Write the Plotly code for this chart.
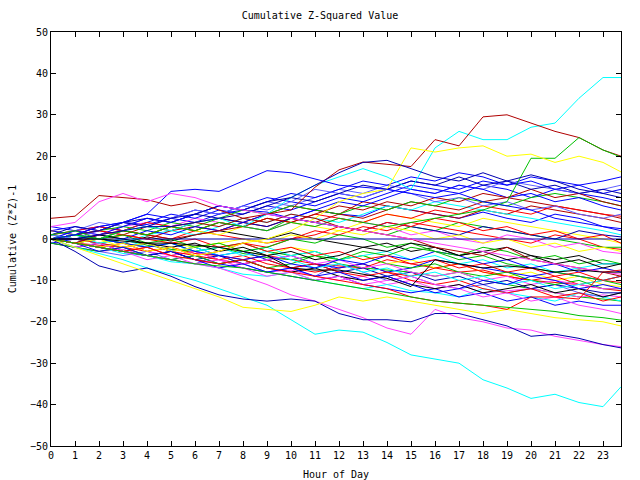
import plotly.graph_objects as go

HOURS = list(range(24)) + [23.75]

# Prominent series (values at hours 0..23 and 23.75)
CYAN_TOP = [0, 1, 0, 2, 3, 2, 4, 5, 3, 6, 10, 13, 15, 17, 15, 12, 22, 26, 24, 24, 27, 28, 34, 39, 39]
CYAN_BOTTOM = [0, -2, -3.5, -5, -7, -8.5, -10, -12, -14, -16, -19.5, -23, -22, -22.5, -25, -28, -29, -30, -34, -36, -38.5, -37.5, -39.5, -40.5, -35.7]
MAGENTA_LOW = [0, -1, -2, -3, -4, -5, -6, -7, -9, -11, -13.5, -15, -17, -19, -21.5, -23, -17, -19, -20, -21.5, -22, -23.5, -24.5, -25.5, -26]
BLUE_LOW = [0, -3, -6.5, -8, -7, -9, -11.5, -13.5, -14.5, -15, -14.5, -15, -18, -19.5, -19.5, -20, -18, -18, -19.5, -21, -23.5, -23, -24, -25.5, -26.3]
DARKRED_TOP = [0, -1, 1, 2, 1, 3, 4, 3, 5, 6, 7, 12.5, 16.7, 18.6, 18, 17.5, 24, 22.5, 29.5, 30, 28, 26, 24.5, 21.5, 20]
GREEN_TOP = [0, 1, 0, 2, 1, 3, 2, 4, 3, 2, 4, 3, 5, 4, 3, 4, 5, 6, 7, 9, 19.5, 19.5, 24.5, 21.5, 19.8]
YELLOW_TOP = [0, -1, -2, -1, -3, -2, -4, -3, -1, 0, 2, 5, 9, 11, 12, 22, 21, 22, 22.5, 20, 20.5, 18.5, 20, 18.5, 16.2]
BLUE_HIGH = [0, 1, 3, 4, 6, 11.5, 12, 11.5, 14, 16.5, 16, 14.5, 13, 12.5, 12, 11, 10, 11, 9, 8, 7, 5, 4, 3, 2]
BLUE_HIGH2 = [0, 0, 1, 2, 3, 3, 4, 5, 6, 8, 10, 13, 16, 18.5, 19, 17, 15, 14, 16, 14, 15.5, 14, 12, 11, 10]
DARKRED_EARLY = [5, 5.5, 10.5, 10, 9.5, 8, 9, 7, 5, 4, 6, 5, 3, 2, 1, 0, -2, -3, -4, -2, -5, -6, -7, -8, -9]
MAGENTA_EARLY = [3, 4, 9, 11, 9, 11, 10, 8, 7, 6, 5, 4, 3, 2, 1, 0, -1, -2, -3, -4, -5, -6, -7, -8, -8.5]
YELLOW_LOW = [0, -2, -4, -6, -8, -10, -12, -14, -16.5, -17, -17.5, -16, -14, -15, -14, -15, -16, -17, -18, -17, -18, -19, -19.5, -20, -21]
RED_JUMP = [0, -1, -2, -3, -2, -4, -5, -6, -5, -7, -8, -9, -10, -11, -12, -14, -15, -15.5, -16, -17, -14, -14, -14.5, -8, -7.5]
GREEN_LOW = [0, -1, -2, -3, -4, -5, -6, -6.5, -7, -8, -9, -10, -11, -12, -13, -14, -15, -15.5, -16, -16.5, -17, -17.5, -18.5, -19, -19.6]
BLACK_MID = [0, 0, 0, -0.5, -1, -1, -1.5, -2, -3, -4, -7, -7.5, -7.5, -8.5, -9.5, -11.5, -5, -6, -7, -6.5, -7, -8, -7.5, -8, -8]
FLAT_ZERO = [0] * 25

# Bulk series
B01 = [0, -1, -1.5, -2, -3, -2, -3.5, -4, -5, -4, -5, -6, -6.5, -7, -5, -6, -7, -8, -7.5, -9, -10, -10.5, -11, -12, -12.5]
B02 = [1, 0, -1, 0, -1.5, -2.5, -3, -2, -3.5, -4.5, -5, -4, -6, -7, -7.5, -8, -9, -8, -10, -11, -12, -13, -14, -14.5, -15]
B03 = [2, 3, 2, 4, 3.5, 5, 4, 6, 7, 6.5, 5, 7, 6, 5.5, 8, 7, 6, 5, 6.5, 5, 4, 6, 5, 3, 2.5]
B04 = [-1, -2, -3, -2.5, -4, -5, -6, -5, -7, -8, -7.5, -9, -10, -9, -11, -10, -12, -11, -13, -12.5, -12, -13, -14, -13.5, -14]
B05 = [0, -1, -2, -3.5, -4, -5.5, -6, -7, -8.5, -9, -8, -10, -11, -12, -11, -12.5, -13, -14, -12, -13, -14, -15, -13, -14, -15]
B06 = [0, 1, 2, 1, 3, 2, 4, 5, 4, 6, 8, 7, 6, 9, 8, 7, 6, 5, 7, 6, 8, 7, 6, 5, 4]
B07 = [1, 0, -1, 1, 0, -1, -2, -1, -3, -4, -2, -3, -5, -4, -6, -5, -7, -6, -8, -9, -8, -10, -9, -11, -11.5]
B08 = [0, 1, 0, -1, 0.5, -0.5, 1, 2, 1, 0, 1.5, 0, -1, -2, -1, -3, -2, -4, -3, -2, -4, -5, -4, -6, -6]
B09 = [0, -2, -3, -4, -3, -5, -6, -4, -6, -8, -7, -9, -6, -8, -10, -9, -11, -12, -11, -13, -12, -11, -13, -14, -13]
B10 = [3, 2, 3, 4, 6, 5, 7, 6, 8, 10, 9, 8, 10, 9, 11, 13, 12, 11, 13, 12, 10, 12, 11, 10, 9]
B11 = [2, 1, 3, 2, 1, 0, 2, 1, 0, -1, 0, 2, 1, 3, 2, 4, 3, 2, 1, 0, -1, 1, 0, -2, -2.5]
B12 = [0, -1, 0, 2, 1, 3, 2, 4, 3, 2, 5, 4, 3, 2, 1, 3, 2, 4, 3, 2, 1, 0, -1, -2, -2]
B13 = [-1, -2, -1, -3, -4, -3, -5, -4, -6, -5, -7, -6, -8, -7, -9, -8, -10, -9, -11, -10, -12, -11, -12, -13, -13]
B14 = [1, 2, 1, 3, 4, 3, 5, 4, 3, 2, 4, 3, 5, 4, 3, 1, 2, 0, -1, 1, 0, -2, -1, -3, -3.5]
B15 = [0, 1, 0, -1, 1, 2, 1, 3, 5, 4, 6, 5, 4, 6, 8, 7, 9, 8, 7, 6, 5, 4, 3, 2, 1]
B16 = [0, -1, -2, -3, -2, -4, -3, -5, -6, -5, -7, -8, -7, -6, -8, -9, -7, -6, -8, -9, -10, -9, -11, -10, -10.5]
B17 = [0, 1, 3, 2, 4, 6, 5, 7, 6, 8, 7, 9, 11, 10, 12, 14, 13, 12, 14, 13, 15, 14, 13, 14, 15]
B18 = [2, 1, 0, 2, 1, 3, 2, 1, 3, 5, 4, 3, 2, 4, 6, 5, 4, 3, 5, 4, 3, 2, 1, 0, -1]
B19 = [0, -1, 0, 1, 0, 2, 3, 2, 4, 3, 5, 4, 6, 5, 7, 9, 8, 7, 9, 10, 9, 8, 7, 6, 5]
B20 = [-1, 0, -1, -2, -1, -3, -2, -4, -3, -5, -4, -6, -7, -6, -8, -7, -5, -6, -7, -8, -9, -8, -9, -10, -9]
B21 = [0, 1, 0, -1, -2, -1, -3, -2, -1, -3, -4, -3, -5, -4, -6, -7, -6, -8, -9, -8, -10, -11, -10, -12, -12]
B22 = [1, 2, 3, 2, 4, 3, 2, 4, 3, 5, 4, 6, 5, 4, 6, 5, 7, 6, 8, 7, 6, 8, 7, 6, 5.5]
B23 = [0, -1, -2, -1, -3, -4, -3, -5, -6, -5, -4, -6, -5, -7, -6, -8, -9, -8, -10, -9, -11, -10, -11, -12, -12]
B24 = [0, 2, 4, 3, 5, 4, 6, 8, 7, 9, 8, 10, 12, 11, 13, 12, 11, 13, 12, 14, 13, 12, 11, 12, 13]
B25 = [0, -1, -2, -3, -4, -5, -4, -6, -7, -8, -9, -10, -9, -11, -12, -13, -12, -14, -13, -15, -14, -16, -15, -16, -16]
B26 = [1, 0, -1, -2, -1, -3, -2, -4, -3, -2, -4, -3, -5, -4, -3, -5, -4, -6, -5, -7, -6, -8, -7, -6, -6]
B27 = [0, -1, -2, -3, -4, -3, -5, -6, -5, -7, -8, -7, -9, -10, -9, -11, -12, -11, -13, -12, -11, -13, -12, -14, -13]
B28 = [1, 3, 2, 4, 5, 4, 6, 5, 4, 3, 5, 4, 3, 2, 4, 3, 2, 1, 3, 2, 1, 0, 2, 1, 0.5]
B29 = [0, 0, -1, -2, -1, -3, -4, -5, -4, -6, -7, -6, -8, -9, -8, -10, -11, -10, -12, -13, -12, -14, -13, -15, -14]
B30 = [0, 1, 2, 3, 2, 4, 3, 5, 7, 6, 8, 7, 6, 8, 7, 9, 8, 10, 9, 8, 10, 11, 10, 9, 8]
B31 = [0, 2, 1, 3, 5, 4, 6, 8, 7, 9, 11, 10, 12, 14, 13, 15, 14, 16, 15, 13, 14, 12, 13, 11, 12]
B32 = [1, 0, 2, 4, 3, 5, 7, 6, 8, 7, 9, 12, 11, 10, 12, 11, 9, 10, 8, 9, 7, 8, 6, 5, 6]
B33 = [0, -1, 1, 0, 2, 1, 3, 2, 4, 6, 5, 7, 9, 8, 10, 12, 11, 13, 12, 10, 11, 9, 10, 8, 7]
B34 = [0, -1, -2, -1, -3, -2, -4, -3, -1, -2, 0, 1, 3, 2, 4, 3, 5, 4, 2, 3, 1, 2, 0, 1, -1]
B35 = [-1, -2, -3, -2, -4, -5, -4, -6, -5, -7, -6, -4, -5, -3, -4, -2, -3, -5, -4, -6, -7, -8, -9, -10, -11]
B36 = [0, 1, 0, 2, 1, 0, 1, 2, 3, 5, 4, 6, 8, 7, 9, 8, 10, 9, 11, 10, 12, 10, 11, 9, 8]
B37 = [0, -2, -1, -3, -5, -4, -6, -5, -7, -9, -8, -10, -9, -11, -10, -9, -11, -12, -14, -13, -15, -14, -16, -17, -18]
B38 = [0, 1, -1, 0, -2, -1, -3, -2, -4, -3, -5, -7, -6, -8, -7, -9, -8, -10, -9, -11, -10, -12, -11, -10, -9]
B39 = [2, 1, 0, -1, -2, -1, -3, -4, -5, -4, -6, -7, -5, -6, -4, -5, -3, -4, -6, -5, -7, -6, -8, -7, -8]
B40 = [0, 1, 2, 1, 0, -1, 0, -2, -1, -3, -2, -4, -3, -5, -4, -6, -5, -7, -6, -8, -7, -9, -8, -10, -9]
B41 = [0, -1, 0, -2, -1, -3, -2, -1, 0, -1, 1, 0, 2, 1, 3, 2, 0, 1, -1, 0, -2, -1, -3, -2, -3]
B42 = [0, 1, 2, 4, 3, 5, 6, 8, 7, 9, 10, 9, 11, 13, 12, 14, 13, 15, 13, 14, 12, 13, 11, 12, 11]
B43 = [1, 2, 0, 1, -1, 0, -2, -1, -3, -2, 0, -1, 1, 0, -2, -1, -3, -4, -2, -3, -5, -4, -6, -5, -6]
B44 = [0, -1, -3, -2, -4, -3, -5, -7, -6, -8, -7, -9, -8, -10, -9, -11, -13, -12, -10, -11, -9, -10, -12, -11, -12]
B45 = [0, 0, 1, 0, -1, -2, -1, -3, -2, -4, -3, -5, -4, -2, -3, -1, -2, -4, -3, -5, -4, -6, -5, -7, -6]

RED, GREEN, BLUE, MAG, CYAN = "#ff0000", "#00c000", "#0000ff", "#ff40ff", "#00ffff"
DRED, YEL, BLK, LBLUE, DBLUE = "#b00000", "#ffff00", "#000000", "#6060ff", "#0000b0"

SERIES = [
    (B01, RED), (B02, GREEN), (B03, BLUE), (B04, MAG), (B05, CYAN), (B06, DRED),
    (B07, YEL), (B08, BLK), (B09, LBLUE), (B10, BLUE), (B11, RED), (B12, GREEN),
    (B13, DBLUE), (B14, MAG), (B15, CYAN), (B16, RED), (B17, BLUE), (B18, YEL),
    (B19, DRED), (B20, BLUE), (B21, GREEN), (B22, RED), (B23, MAG), (B24, LBLUE),
    (B25, BLUE), (B26, CYAN), (B27, BLK), (B28, DBLUE), (B29, RED), (B30, GREEN),
    (B31, BLUE), (B32, LBLUE), (B33, BLUE), (B34, RED), (B35, GREEN), (B36, DRED),
    (B37, MAG), (B38, CYAN), (B39, BLUE), (B40, RED), (B41, YEL), (B42, DBLUE),
    (B43, GREEN), (B44, BLUE), (B45, BLK),
    (FLAT_ZERO, DBLUE), (CYAN_TOP, CYAN), (CYAN_BOTTOM, CYAN), (MAGENTA_LOW, MAG),
    (BLUE_LOW, DBLUE), (DARKRED_TOP, DRED), (GREEN_TOP, GREEN), (YELLOW_TOP, YEL),
    (BLUE_HIGH, BLUE), (BLUE_HIGH2, DBLUE), (DARKRED_EARLY, DRED), (MAGENTA_EARLY, MAG),
    (YELLOW_LOW, YEL), (RED_JUMP, RED), (GREEN_LOW, GREEN), (BLACK_MID, BLK),
]

fig = go.Figure()
for vals, col in SERIES:
    fig.add_trace(go.Scatter(x=HOURS, y=vals, mode="lines",
                             line=dict(color=col, width=1), showlegend=False,
                             hoverinfo="skip"))

FONT = "DejaVu Sans Mono, monospace"
axis_common = dict(showgrid=False, zeroline=False, showline=True, linecolor="black",
                   linewidth=1, ticks="inside", ticklen=5, tickcolor="black",
                   mirror="allticks", automargin=False,
                   tickfont=dict(family=FONT, size=10, color="black"))

fig.update_layout(
    width=640, height=480,
    margin=dict(l=51, r=19, t=32, b=34),
    paper_bgcolor="white", plot_bgcolor="white",
    title=dict(text="Cumulative Z-Squared Value", x=0.5, xanchor="center",
               y=1 - 15 / 480, yanchor="middle",
               font=dict(family=FONT, size=10, color="black")),
    xaxis=dict(range=[0, 23.75], tickmode="array", tickvals=list(range(24)),
               ticktext=[str(h) for h in range(24)],
               title=dict(text="Hour of Day", font=dict(family=FONT, size=10, color="black"),
                          standoff=13),
               **axis_common),
    yaxis=dict(range=[-50, 50], tickmode="array", tickvals=list(range(-50, 51, 10)),
               title=dict(text="Cumulative (Z*Z)-1", font=dict(family=FONT, size=10, color="black"),
                          standoff=11),
               **axis_common),
)

fig.write_html("out.html")
